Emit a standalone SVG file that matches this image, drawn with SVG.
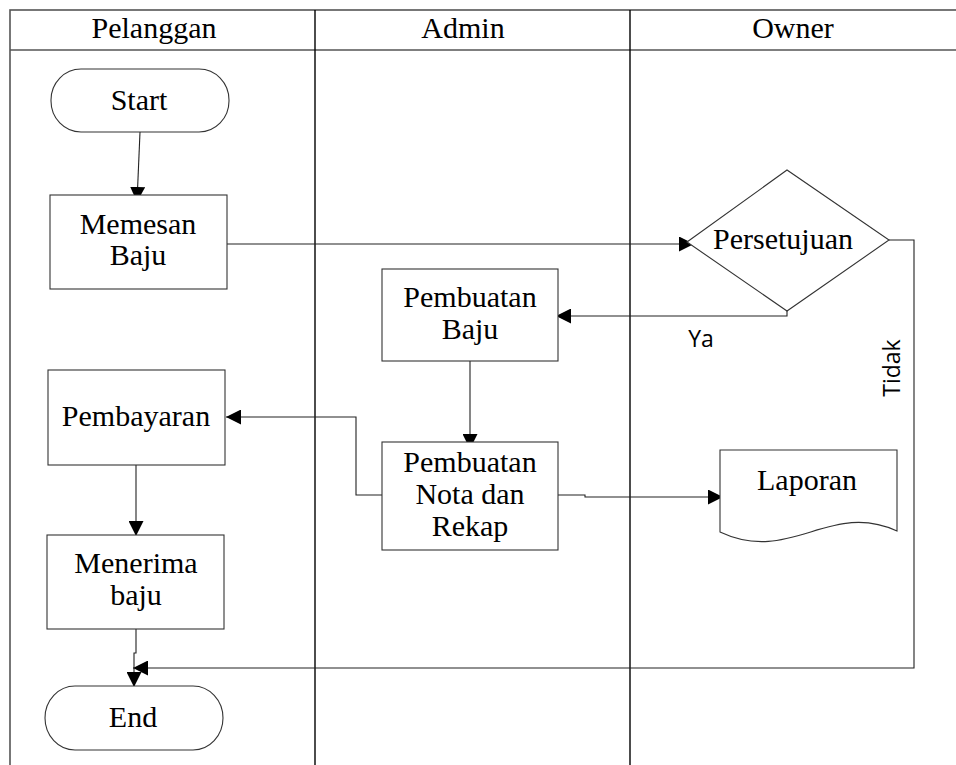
<svg xmlns="http://www.w3.org/2000/svg" width="956" height="765" viewBox="0 0 956 765">
<style>
.bg{fill:#ffffff}
.frame{fill:none;stroke:#555555;stroke-width:1.6}
.col{fill:none;stroke:#000000;stroke-width:1.4}
.node{fill:#ffffff;stroke:#333333;stroke-width:1.1}
.edge{fill:none;stroke:#222222;stroke-width:1.1}
.t{font-family:"Liberation Serif","Times New Roman",serif;font-size:30px;fill:#000000;text-anchor:middle}
.h{font-family:"Liberation Serif","Times New Roman",serif;font-size:30px;fill:#000000;text-anchor:middle}
.s{font-family:"Open Sans","Noto Sans",sans-serif;font-size:23px;fill:#000000;text-anchor:middle}
</style>
<defs>
<marker id="arr" viewBox="0 0 10 10" refX="10" refY="5" markerWidth="15" markerHeight="15" markerUnits="userSpaceOnUse" orient="auto">
<path d="M0,0 L10,5 L0,10 Z" fill="#000000"/>
</marker>
</defs>
<rect class="bg" x="0" y="0" width="956" height="765"/>
<g id="swimlanes">
<rect class="frame" x="10" y="10" width="960" height="770"/>
<line class="frame" x1="10" y1="50" x2="956" y2="50"/>
<line class="col" x1="315" y1="10" x2="315" y2="765"/>
<line class="col" x1="630" y1="10" x2="630" y2="765"/>
<text class="h" x="154" y="38">Pelanggan</text>
<text class="h" x="463" y="38">Admin</text>
<text class="h" x="793" y="38">Owner</text>
</g>
<g id="connectors">
<polyline class="edge" points="140,132 137,202" marker-end="url(#arr)"/>
<polyline class="edge" points="227,244 694,244" marker-end="url(#arr)"/>
<polyline class="edge" points="787,311 787,316 556,316" marker-end="url(#arr)"/>
<polyline class="edge" points="889,240 914,240 914,668 133,668" marker-end="url(#arr)"/>
<polyline class="edge" points="470,361 470,449" marker-end="url(#arr)"/>
<polyline class="edge" points="382,495 356,495 356,417 226,417" marker-end="url(#arr)"/>
<polyline class="edge" points="558,495 585,495 585,497 723,497" marker-end="url(#arr)"/>
<polyline class="edge" points="136,465 136,536" marker-end="url(#arr)"/>
<polyline class="edge" points="136,629 136,653 134,653 134,687" marker-end="url(#arr)"/>
<text class="s" x="701" y="347">Ya</text>
<text class="s" transform="translate(900,368) rotate(-90)" x="0" y="0">Tidak</text>
</g>
<g id="start">
<rect class="node" x="51" y="69" width="178" height="63" rx="30" ry="31"/>
<text class="t" x="139" y="110">Start</text>
</g>
<g id="memesan">
<rect class="node" x="50" y="195" width="177" height="94"/>
<text class="t" x="138" y="234">Memesan</text>
<text class="t" x="138" y="265">Baju</text>
</g>
<g id="persetujuan">
<polygon class="node" points="687,242 787,170 889,240 787,311"/>
<text class="t" x="783" y="249">Persetujuan</text>
</g>
<g id="pembuatan-baju">
<rect class="node" x="382" y="269" width="176" height="92"/>
<text class="t" x="470" y="307">Pembuatan</text>
<text class="t" x="470" y="339">Baju</text>
</g>
<g id="pembayaran">
<rect class="node" x="48" y="370" width="177" height="95"/>
<text class="t" x="136" y="426">Pembayaran</text>
</g>
<g id="nota">
<rect class="node" x="382" y="442" width="176" height="108"/>
<text class="t" x="470" y="472">Pembuatan</text>
<text class="t" x="470" y="504">Nota dan</text>
<text class="t" x="470" y="536">Rekap</text>
</g>
<g id="laporan">
<path class="node" d="M720,450 H897 V531 C830,500 790,565 720,532 Z"/>
<text class="t" x="807" y="490">Laporan</text>
</g>
<g id="menerima">
<rect class="node" x="47" y="535" width="177" height="94"/>
<text class="t" x="136" y="573">Menerima</text>
<text class="t" x="136" y="605">baju</text>
</g>
<g id="end">
<rect class="node" x="45" y="686" width="178" height="64" rx="30" ry="32"/>
<text class="t" x="133" y="727">End</text>
</g>
</svg>
